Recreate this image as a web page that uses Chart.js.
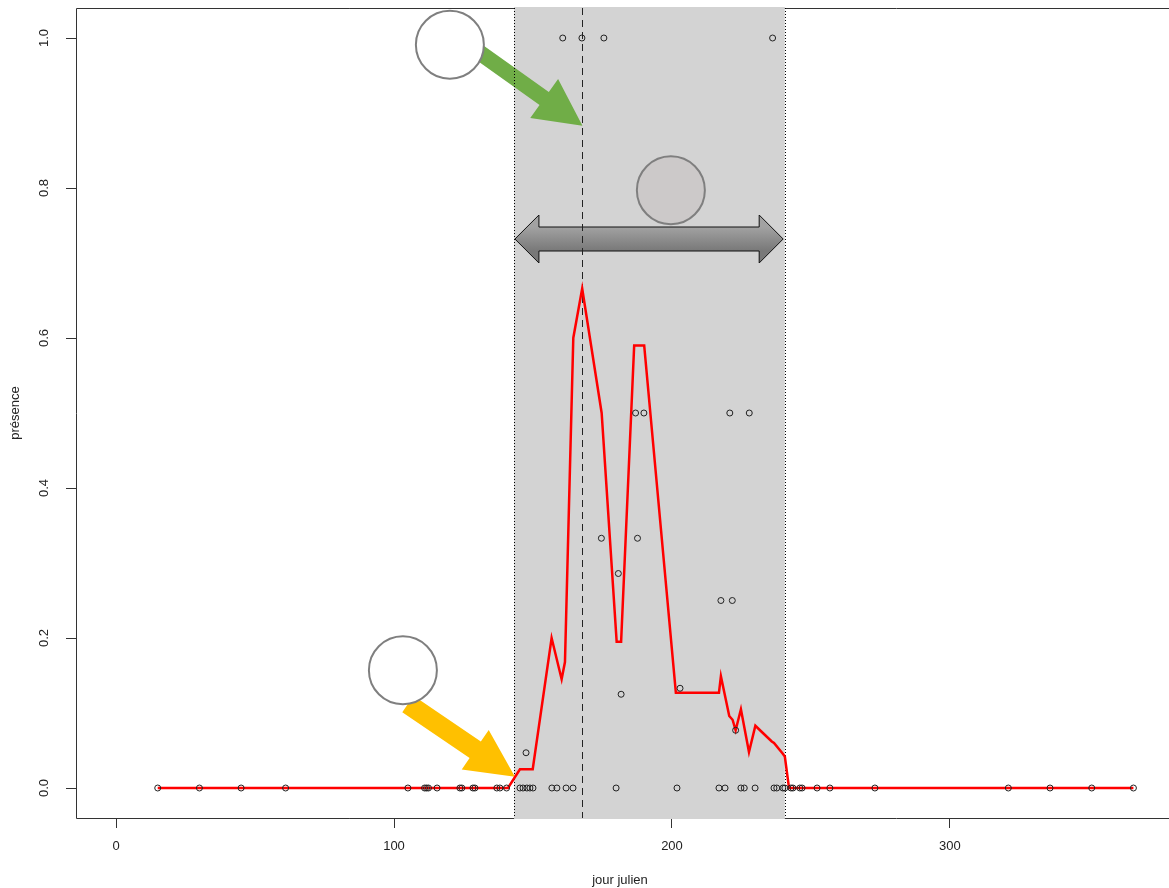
<!DOCTYPE html>
<html lang="fr">
<head>
<meta charset="utf-8">
<title>présence / jour julien</title>
<script src="https://cdn.jsdelivr.net/npm/chart.js@4.4.1/dist/chart.umd.min.js"></script>
<style>
  html, body { margin: 0; padding: 0; background: #fff; overflow: hidden; }
  #wrap { width: 1169px; height: 888px; }
</style>
</head>
<body>
<div id="wrap"><canvas id="presenceChart" width="1169" height="888"></canvas></div>
<script>
/* ── Observations (jour julien / présence) ── */
const obsDay = [15, 30, 45, 61, 105, 111, 111.7, 112.4, 115.5, 123.7, 124.4, 128.4, 129.1, 137, 138.1, 140.5,
  145.3, 146.4, 147.5, 147.8, 148.9, 150, 156.8, 158.6, 160.7, 161.9, 164.4, 167.6, 174.6, 175.5, 179.9,
  180.7, 181.7, 186.9, 187.6, 189.9, 201.8, 202.9, 216.9, 217.6, 219.1, 220.8, 221.7, 222.9, 224.8, 226,
  227.8, 229.9, 236.2, 236.7, 237.7, 239.9, 240.6, 242.8, 243.5, 246, 246.8, 252.2, 256.8, 273, 321, 336, 351, 366];
const obsPresence = [0, 0, 0, 0, 0, 0, 0, 0, 0, 0, 0, 0, 0, 0, 0, 0,
  0, 0, 0.047, 0, 0, 0, 0, 0, 1, 0, 0, 1, 0.333, 1, 0,
  0.286, 0.125, 0.5, 0.333, 0.5, 0, 0.133, 0, 0.25, 0, 0.5, 0.25, 0.077, 0, 0,
  0.5, 0, 1, 0, 0, 0, 0, 0, 0, 0, 0, 0, 0, 0, 0, 0, 0, 0];

/* ── Courbe lissée ── */
const lineDay = [15, 30, 45, 61, 105, 115.5, 124, 129, 138, 141, 145.3, 149.9, 156.7, 160.3, 161.5, 164.5,
  167.7, 174.7, 180.1, 181.7, 186.4, 190, 201.4, 216.9, 217.6, 220.6, 221.8, 222.9, 224.8, 227.7, 230,
  232.8, 235.9, 236.7, 239.8, 240.6, 242.1, 246, 257, 273, 321, 336, 351, 366];
const lineValue = [0, 0, 0, 0, 0, 0, 0, 0, 0, 0, 0.025, 0.025, 0.2, 0.145, 0.168, 0.6,
  0.666, 0.5, 0.195, 0.195, 0.59, 0.59, 0.127, 0.127, 0.149, 0.096, 0.091, 0.077, 0.105, 0.048, 0.083,
  0.073, 0.062, 0.06, 0.046, 0.042, 0, 0, 0, 0, 0, 0, 0, 0];

/* ── Période et pic ── */
const periodStart = 143.2;
const periodEnd   = 240.6;
const peakDay     = 167.6;

const xTicks = [0, 100, 200, 300];
const yTicks = [0, 0.2, 0.4, 0.6, 0.8, 1.0];

const FONT = '"Liberation Sans", Arial, sans-serif';

/* ── Helpers de dessin ── */
function arrow(ctx, x0, y0, x1, y1, shaftW, headLen, headHalf, color) {
  const len = Math.hypot(x1 - x0, y1 - y0);
  ctx.save();
  ctx.translate(x0, y0);
  ctx.rotate(Math.atan2(y1 - y0, x1 - x0));
  ctx.beginPath();
  ctx.moveTo(0, -shaftW / 2);
  ctx.lineTo(len - headLen, -shaftW / 2);
  ctx.lineTo(len - headLen, -headHalf);
  ctx.lineTo(len, 0);
  ctx.lineTo(len - headLen, headHalf);
  ctx.lineTo(len - headLen, shaftW / 2);
  ctx.lineTo(0, shaftW / 2);
  ctx.closePath();
  ctx.fillStyle = color;
  ctx.fill();
  ctx.restore();
}

function circle(ctx, x, y, r, fill) {
  ctx.beginPath();
  ctx.arc(x, y, r, 0, Math.PI * 2);
  ctx.fillStyle = fill;
  ctx.fill();
  ctx.lineWidth = 2;
  ctx.strokeStyle = '#7f7f7f';
  ctx.stroke();
}

function doubleArrow(ctx, xl, xr, y, headLen, headHalf, shaftHalf) {
  ctx.beginPath();
  ctx.moveTo(xl, y);
  ctx.lineTo(xl + headLen, y - headHalf);
  ctx.lineTo(xl + headLen, y - shaftHalf);
  ctx.lineTo(xr - headLen, y - shaftHalf);
  ctx.lineTo(xr - headLen, y - headHalf);
  ctx.lineTo(xr, y);
  ctx.lineTo(xr - headLen, y + headHalf);
  ctx.lineTo(xr - headLen, y + shaftHalf);
  ctx.lineTo(xl + headLen, y + shaftHalf);
  ctx.lineTo(xl + headLen, y + headHalf);
  ctx.closePath();
  const g = ctx.createLinearGradient(0, y - shaftHalf, 0, y + shaftHalf);
  g.addColorStop(0, '#a2a2a2');
  g.addColorStop(1, '#787878');
  ctx.fillStyle = g;
  ctx.fill();
  ctx.lineWidth = 1;
  ctx.strokeStyle = '#111';
  ctx.stroke();
}

/* ── Fond : cadre, période, annotations, repères ── */
const backdrop = {
  id: 'backdrop',
  beforeDatasetsDraw(chart) {
    const { ctx, chartArea: a, scales: { x, y } } = chart;
    ctx.save();

    // cadre (le bord droit sort de l'image, comme dans l'original)
    ctx.lineWidth = 1;
    ctx.strokeStyle = '#333';
    ctx.beginPath();
    ctx.moveTo(chart.width + 2, a.top + 0.5);
    ctx.lineTo(a.left + 0.5, a.top + 0.5);
    ctx.lineTo(a.left + 0.5, a.bottom + 0.5);
    ctx.lineTo(chart.width + 2, a.bottom + 0.5);
    ctx.stroke();

    // période grisée
    const xs = x.getPixelForValue(periodStart);
    const xe = x.getPixelForValue(periodEnd);
    ctx.fillStyle = '#d3d3d3';
    ctx.fillRect(xs, a.top - 1, xe - xs, a.bottom - a.top + 2);

    // flèches et cercles
    arrow(ctx, x.getPixelForValue(129.5), y.getPixelForValue(0.984),
               x.getPixelForValue(167.8), y.getPixelForValue(0.883), 16, 47, 24, '#70ad47');
    circle(ctx, x.getPixelForValue(120.1), y.getPixelForValue(0.991), 34, '#ffffff');

    arrow(ctx, x.getPixelForValue(105.0), y.getPixelForValue(0.112),
               x.getPixelForValue(143.5), y.getPixelForValue(0.015), 20, 48, 24, '#ffc000');
    circle(ctx, x.getPixelForValue(103.2), y.getPixelForValue(0.157), 34, '#ffffff');

    doubleArrow(ctx, x.getPixelForValue(143.5), x.getPixelForValue(240.0),
                y.getPixelForValue(0.732), 24, 24, 12);
    circle(ctx, x.getPixelForValue(199.6), y.getPixelForValue(0.797), 34, '#ccc9c9');

    // bornes pointillées
    ctx.lineWidth = 1;
    ctx.strokeStyle = '#000';
    ctx.setLineDash([1, 2]);
    [xs, xe].forEach(px => {
      ctx.beginPath();
      ctx.moveTo(Math.round(px) + 0.5, a.top);
      ctx.lineTo(Math.round(px) + 0.5, a.bottom);
      ctx.stroke();
    });

    // pic (tirets)
    const xp = Math.round(x.getPixelForValue(peakDay)) + 0.5;
    ctx.strokeStyle = '#222';
    ctx.setLineDash([7, 5]);
    ctx.beginPath();
    ctx.moveTo(xp, a.top);
    ctx.lineTo(xp, a.bottom);
    ctx.stroke();
    ctx.restore();
  },
  afterDraw(chart) {
    // étiquettes de l'axe y, parallèles à l'axe (style R)
    const { ctx, scales: { y } } = chart;
    ctx.save();
    ctx.fillStyle = '#222';
    ctx.font = '13px ' + FONT;
    ctx.textAlign = 'center';
    ctx.textBaseline = 'middle';
    yTicks.forEach(v => {
      ctx.save();
      ctx.translate(44, y.getPixelForValue(v));
      ctx.rotate(-Math.PI / 2);
      ctx.fillText(v.toFixed(1), 0, 0);
      ctx.restore();
    });
    ctx.restore();
  }
};

const ctx = document.getElementById('presenceChart').getContext('2d');

new Chart(ctx, {
  type: 'scatter',
  data: {
    datasets: [{
      label: 'observations',
      data: obsDay.map((d, i) => ({ x: d, y: obsPresence[i] })),
      showLine: false,
      pointStyle: 'circle',
      pointRadius: 3,
      pointBorderWidth: 1,
      pointBorderColor: '#222',
      pointBackgroundColor: 'rgba(0,0,0,0)',
      order: 0,
    }, {
      label: 'présence lissée',
      data: lineDay.map((d, i) => ({ x: d, y: lineValue[i] })),
      showLine: true,
      borderColor: '#ff0000',
      borderWidth: 2.5,
      pointRadius: 0,
      tension: 0,
      order: 1,
    }]
  },
  options: {
    responsive: false,
    devicePixelRatio: 1,
    animation: false,
    layout: { padding: { top: 8, right: 0, left: 0, bottom: 0 } },
    plugins: {
      legend: { display: false },
      tooltip: { enabled: false },
    },
    scales: {
      x: {
        type: 'linear',
        min: -14.4,
        max: 377,
        afterBuildTicks: s => { s.ticks = xTicks.map(v => ({ value: v })); },
        afterFit: s => { s.height = 70; },
        border: { display: false },
        grid: { drawOnChartArea: false, drawTicks: true, tickLength: 10, color: '#333' },
        ticks: { color: '#222', font: { family: FONT, size: 13 }, padding: 11, maxRotation: 0 },
        title: { display: true, text: 'jour julien', color: '#222',
                 font: { family: FONT, size: 13 }, padding: { top: 0, bottom: 0 } },
      },
      y: {
        type: 'linear',
        min: -0.04,
        max: 1.04,
        afterBuildTicks: s => { s.ticks = yTicks.map(v => ({ value: v })); },
        afterFit: s => { s.width = 76; },
        border: { display: false },
        grid: { drawOnChartArea: false, drawTicks: true, tickLength: 10, color: '#333' },
        ticks: { display: false },
        title: { display: true, text: 'présence', color: '#222',
                 font: { family: FONT, size: 13 }, padding: { top: 8, bottom: 0 } },
      }
    }
  },
  plugins: [backdrop]
});
</script>
</body>
</html>
